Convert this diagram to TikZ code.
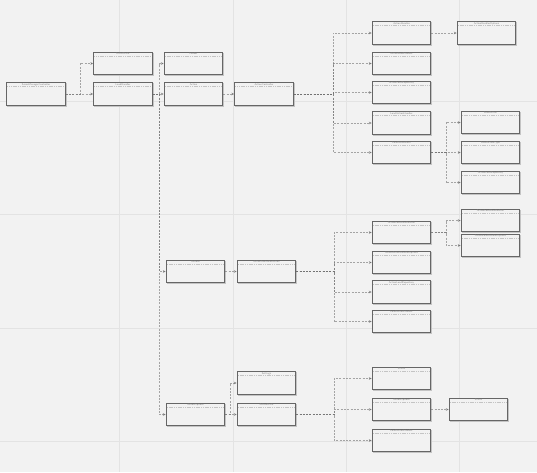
\documentclass[tikz,border=0pt]{standalone}
\usetikzlibrary{arrows.meta}
\definecolor{bgc}{HTML}{F2F2F2}
\definecolor{gridc}{HTML}{E3E3E3}
\definecolor{boxc}{HTML}{666666}
\definecolor{shc}{HTML}{C4C4C4}
\definecolor{txtc}{HTML}{8A8A8A}
\definecolor{connc}{HTML}{707070}
\tikzset{
  box/.style={draw=boxc, fill=bgc, line width=1pt, minimum width=58.5pt, minimum height=22.5pt, inner sep=0pt,
    preaction={draw=shc, line width=1pt, transform canvas={shift={(1pt,-1pt)}}}},
  hdr/.style={font=\fontsize{2.6}{3}\selectfont\sffamily, text=txtc, inner sep=0pt, anchor=north},
  hdrline/.style={draw=shc, line width=0.5pt, dash pattern=on 1.2pt off 0.6pt},
  conn/.style={draw=connc, draw opacity=0.6, line width=0.9pt, dash pattern=on 2pt off 1.3pt,
    -{Stealth[length=3pt,width=2.8pt,fill=connc]}},
  gridl/.style={draw=gridc, line width=0.8pt}
}
\newcommand\bx[4]{%
  \node[box] (#1) at (#2,#3) {};
  \node[hdr] at ([yshift=-1.1pt]#1.north) {#4};
  \draw[hdrline] ([xshift=1pt,yshift=-4pt]#1.north west) -- ([xshift=-1pt,yshift=-4pt]#1.north east);
}
\begin{document}
\begin{tikzpicture}[x=1pt,y=-1pt]
\fill[bgc] (0,0) rectangle (537,472);
\useasboundingbox (0,0) rectangle (537,472);
\foreach \gx in {119,233,346,459} \draw[gridl] (\gx,0) -- (\gx,472);
\foreach \gy in {101,214,328,441} \draw[gridl] (0,\gy) -- (537,\gy);

% nodes
\bx{A}{36}{94}{SceneManagerController}
\bx{B}{123}{63.5}{InitialState}
\bx{C}{123}{94}{LoadHandler}
\bx{D}{193.5}{63.5}{Loader}
\bx{E}{193.5}{94}{Action}
\bx{F}{264}{94}{ActionController}
\bx{G1}{401.5}{33}{ActionHandler}
\bx{H}{486.5}{33}{ActionHandlerOptions}
\bx{G2}{401.5}{63.5}{ActionLoadHandler}
\bx{G3}{401.5}{92.5}{ActionLoadRepository}
\bx{G4}{401.5}{123}{LoadActionHandler}
\bx{G5}{401.5}{152.5}{LoadActionItem}
\bx{I1}{490.5}{122.5}{LoadAction}
\bx{I2}{490.5}{152.5}{LoadActionType}
\bx{I3}{490.5}{182.5}{ActionLoadRepository}
\bx{J}{195.5}{271.5}{Actions}
\bx{K}{266.5}{271.5}{ActionControllerAction}
\bx{L1}{401.5}{232.5}{ActionLoadHandlerItem}
\bx{L2}{401.5}{262.5}{ActionActionHandlerOptions}
\bx{L3}{401.5}{292}{ActionLoadRepository}
\bx{L4}{401.5}{321.5}{LoadActionHandler}
\bx{M1}{490.5}{220.5}{ActionLoadHandlerItem}
\bx{M2}{490.5}{245.5}{ActionLoadHandlerOptions}
\bx{N}{195.5}{414.5}{ActionOptions}
\bx{O1}{266.5}{383}{Settings}
\bx{O2}{266.5}{414.5}{ActionState}
\bx{P1}{401.5}{378.5}{Status}
\bx{P2}{401.5}{409.5}{ActionOptions}
\bx{P3}{401.5}{440.5}{LoadActionHandler}
\bx{Q}{478.5}{409.5}{Status}

% elbow coordinates
\coordinate (ma) at (80,94);
\coordinate (mc) at (159,94);
\coordinate (mf) at (333,94);
\coordinate (mg) at (446,152.5);
\coordinate (mk) at (334,271.5);
\coordinate (ml) at (446,232.5);
\coordinate (mn) at (230,414.5);
\coordinate (mo) at (334,414.5);

% connectors
\draw[conn] (A.east) -- (ma) |- (B.west);
\draw[conn] (A.east) -- (C.west);
\draw[conn] (C.east) -- (mc) |- (D.west);
\draw[conn] (C.east) -- (E.west);
\draw[conn] (C.east) -- (mc) |- (J.west);
\draw[conn] (C.east) -- (mc) |- (N.west);
\draw[conn] (E.east) -- (F.west);
\foreach \t in {G1,G2,G3,G4,G5} \draw[conn] (F.east) -- (mf) |- (\t.west);
\draw[conn] (G1.east) -- (H.west);
\foreach \t in {I1,I2,I3} \draw[conn] (G5.east) -- (mg) |- (\t.west);
\draw[conn] (J.east) -- (K.west);
\foreach \t in {L1,L2,L3,L4} \draw[conn] (K.east) -- (mk) |- (\t.west);
\foreach \t in {M1,M2} \draw[conn] (L1.east) -- (ml) |- (\t.west);
\foreach \t in {O1,O2} \draw[conn] (N.east) -- (mn) |- (\t.west);
\foreach \t in {P1,P2,P3} \draw[conn] (O2.east) -- (mo) |- (\t.west);
\draw[conn] (P2.east) -- (Q.west);
\end{tikzpicture}
\end{document}
